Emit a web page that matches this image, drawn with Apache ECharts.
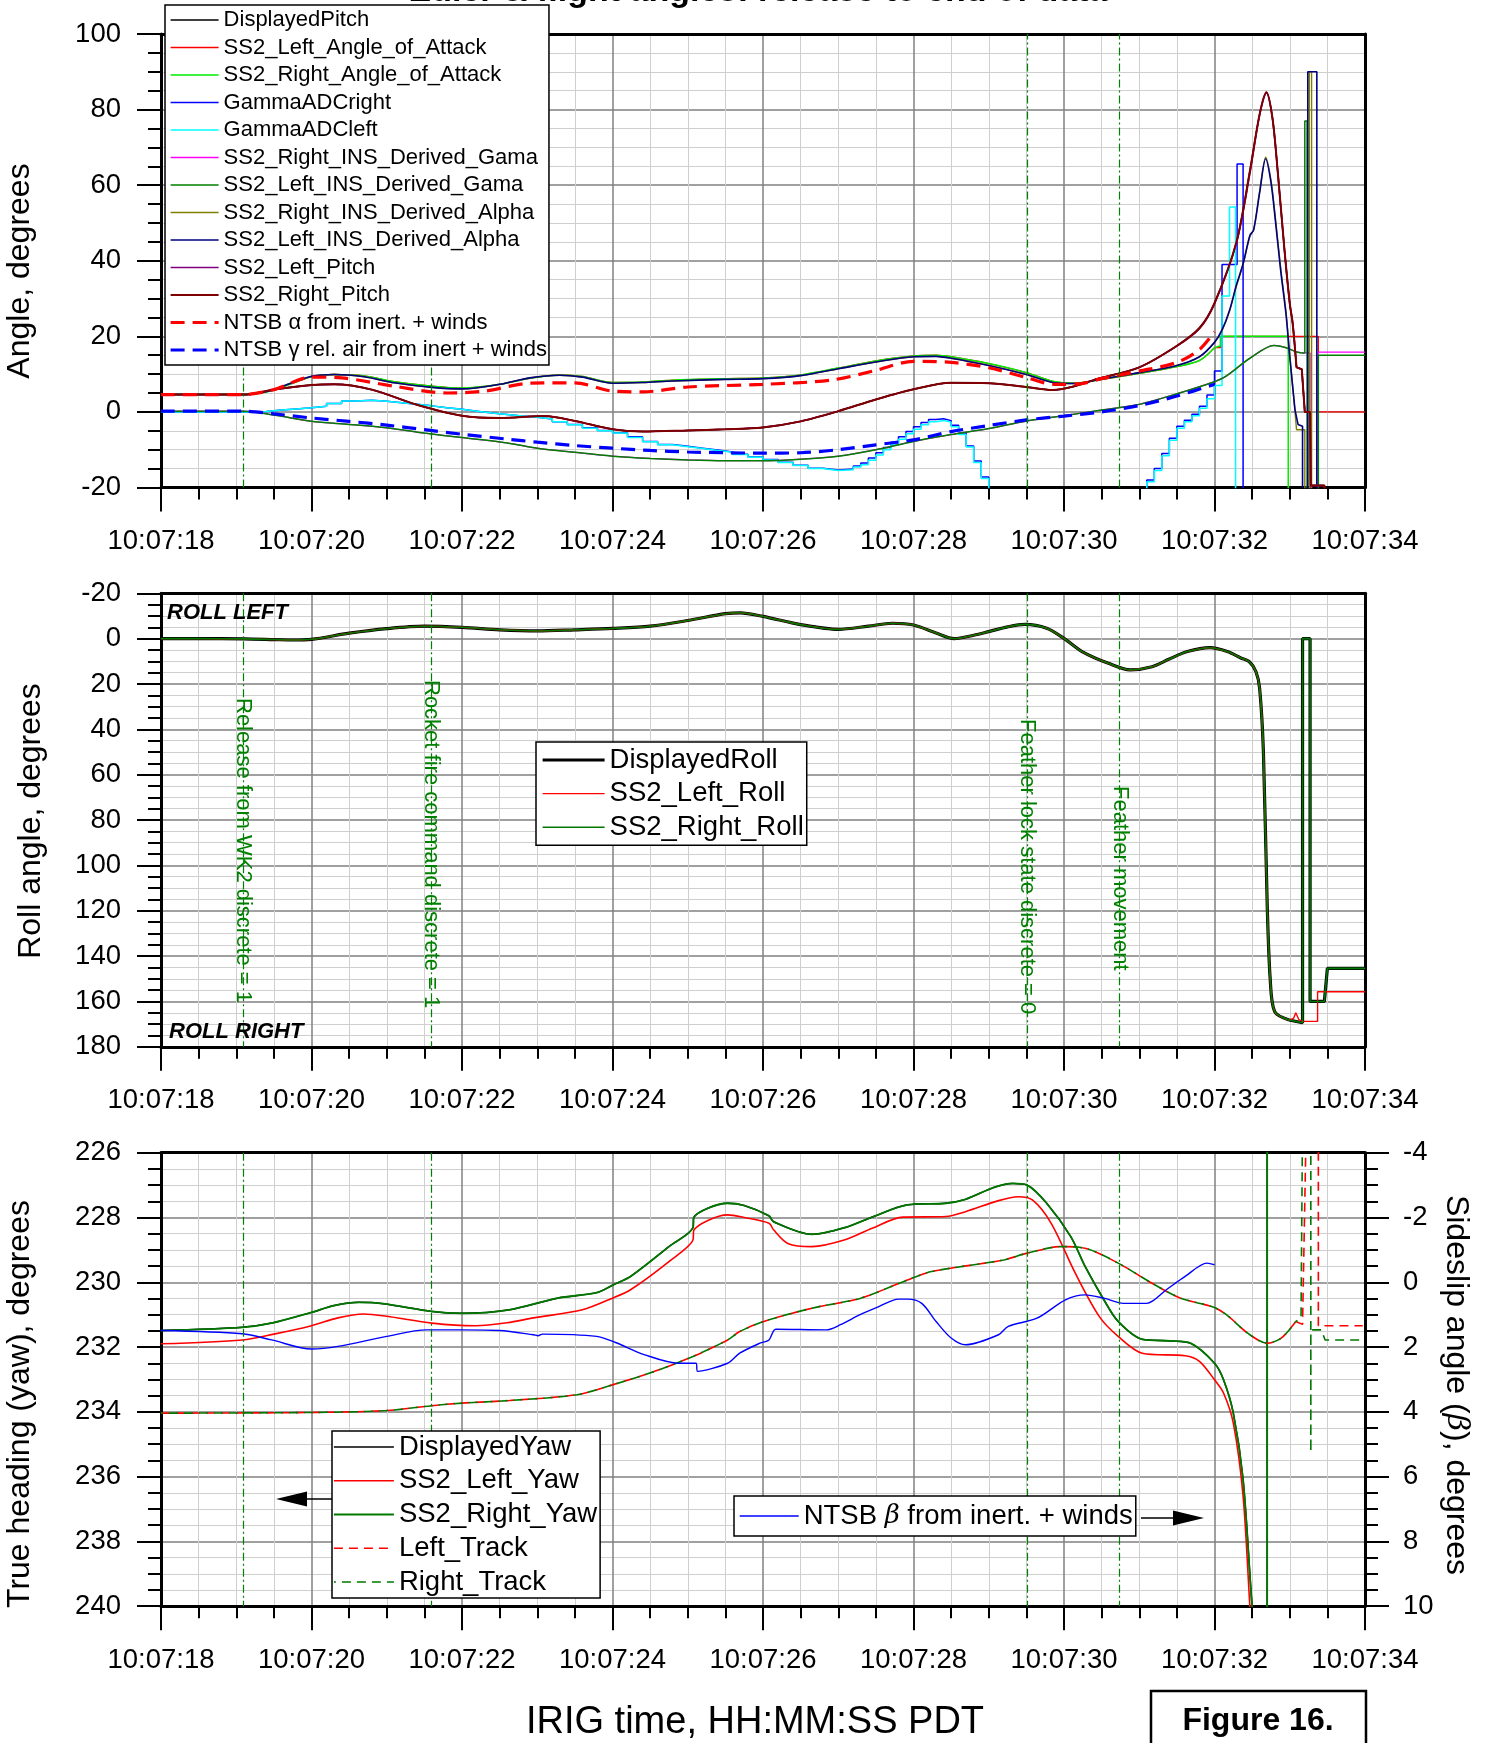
<!DOCTYPE html>
<html>
<head>
<meta charset="utf-8">
<title>Euler &amp; flight angles: release to end of data</title>
<script src="https://cdn.jsdelivr.net/npm/echarts@6/dist/echarts.min.js"></script>
<style>
html, body { margin: 0; padding: 0; background: #fff; }
#chart { width: 1491px; height: 1743px; }
</style>
</head>
<body>
<div id="chart"></div>
<script>
// All times are seconds past 10:07:00 PDT (IRIG time).

// ---------- Panel 1: pitch, angle of attack, flight-path angle (deg) ----------
const alphaT = [18, 19.1, 19.3, 19.5, 19.75, 20.0, 20.3, 20.7, 21.1, 21.6,
  22.0, 22.5, 22.9, 23.3, 23.6, 24.0, 24.4, 24.8, 25.5, 26.0,
  26.5, 27.0, 27.5, 28.0, 28.3, 28.5, 29.0, 29.5, 29.85, 30.15,
  30.45, 31.0, 31.5, 31.8, 32.0];
const insAlphaV = [4.6, 4.6, 5.0, 5.9, 7.8, 9.4, 9.9, 9.3, 7.7, 6.5,
  6.1, 7.3, 9.0, 9.7, 9.2, 7.6, 7.8, 8.2, 8.6, 8.8,
  9.6, 11.4, 13.2, 14.6, 14.7, 14.2, 12.3, 9.9, 7.8, 7.5,
  8.5, 10.4, 12.3, 14.6, 18.4];
const aoaV = [4.6, 4.6, 4.9, 5.8, 7.6, 9.3, 9.9, 9.5, 8.0, 6.8,
  6.3, 7.3, 8.9, 9.8, 9.4, 7.8, 7.9, 8.4, 8.8, 9.0,
  9.8, 11.6, 13.5, 14.8, 15.0, 14.6, 12.8, 10.4, 8.1, 7.6,
  8.4, 10.2, 12.0, 13.6, 17.0];
const insAlphaPeakT = [32.1, 32.2, 32.29, 32.38, 32.47, 32.52, 32.6, 32.68, 32.75, 32.81, 32.88, 32.95, 33.0, 33.07];
const leftInsAlphaPeakV = [21.7, 26.9, 33.5, 39.2, 46.7, 48.1, 58, 67, 60.8, 50.5, 37.3, 25.9, 14.6, 0.5];
const rightInsAlphaPeakV = [21.5, 26.6, 33.2, 39.0, 46.4, 48.3, 58.4, 67.4, 61.4, 51.2, 38.0, 26.6, 15.2, 0.0];
const leftInsAlphaTailT = [33.11, 33.17, 33.17, 33.24, 33.24, 33.36, 33.36];
const leftInsAlphaTailV = [-3.3, -3.8, -25, -25, 90, 90, -25];
const rightInsAlphaTailT = [33.09, 33.2, 33.2, 33.26, 33.26, 33.29, 33.29];
const rightInsAlphaTailV = [-4.7, -4.7, -25, -25, 90, 90, -25];
const leftAoaTailT = [32.08, 32.08, 33.38, 33.38, 34];
const leftAoaTailV = [17, 20, 20, 0, 0];
const rightAoaTailT = [32.08, 32.08, 32.98, 32.98];
const rightAoaTailV = [17.5, 20, 20, -25];

const pitchT = [18, 19.1, 19.5, 20.0, 20.3, 20.8, 21.4, 22.0, 22.5, 23.1,
  23.5, 24.0, 24.4, 25.0, 25.5, 26.0, 26.5, 27.0, 27.5, 28.0,
  28.5, 29.0, 29.5, 29.85, 30.1, 30.45, 31.0, 31.5, 31.8, 32.0,
  32.29, 32.47, 32.6, 32.69, 32.77, 32.84, 32.93, 33.0, 33.04, 33.09];
const rightPitchV = [4.6, 4.6, 5.9, 7.1, 7.3, 5.9, 1.9, -1.0, -1.6, -1.1,
  -2.4, -4.6, -5.2, -4.9, -4.6, -4.1, -2.5, 0.2, 3.3, 6.0,
  7.7, 7.6, 6.6, 5.8, 6.6, 8.8, 11.8, 17.5, 22.2, 28.8,
  44.8, 63.7, 78.8, 84.6, 77.8, 63.7, 42.9, 28.8, 23.1, 11.8];
const leftPitchV = [4.6, 4.6, 5.9, 7.1, 7.3, 5.9, 1.9, -1.0, -1.6, -1.1,
  -2.4, -4.6, -5.2, -4.9, -4.6, -4.1, -2.5, 0.2, 3.3, 6.0,
  7.7, 7.6, 6.6, 5.8, 6.6, 8.8, 11.8, 17.4, 22.0, 28.6,
  44.6, 63.0, 78.6, 84.4, 77.6, 63.5, 42.7, 28.6, 23.6, 11.8];
const pitchTailT = [33.16, 33.2, 33.27, 33.28, 33.46, 33.47];
const pitchTailV = [11.3, 0, 0, -19.5, -19.5, -25];

const insGamT = [18, 19.1, 19.5, 20.0, 20.5, 21.0, 21.5, 22.0, 22.6, 23.0,
  23.5, 24.0, 24.5, 25.0, 25.5, 26.0, 26.5, 27.0, 27.5, 28.0,
  28.5, 29.0, 29.5, 30.0, 30.5, 31.0, 31.5, 32.0, 32.15, 32.47,
  32.79, 32.95, 33.07, 33.16];
const insGamV = [0.2, 0.2, -0.8, -2.5, -3.3, -4.2, -5.6, -6.8, -8.2, -9.6,
  -10.7, -11.7, -12.3, -12.7, -12.9, -12.9, -12.5, -11.7, -10.0, -7.8,
  -6.0, -4.4, -2.4, -1.0, 0.5, 2.0, 4.8, 8.0, 9.4, 14.2,
  17.6, 17.0, 16.0, 15.6];
const leftInsGamTailT = [33.2, 33.2, 33.23, 33.23, 33.38, 33.38, 34];
const leftInsGamTailV = [15.6, 77, 77, -25, -25, 15, 15];
const rightInsGamTailT = [33.27, 33.27, 33.38, 33.38, 34];
const rightInsGamTailV = [15.6, -25, -25, 15.8, 15.8];

const ntsbAlphaT = [18, 19.1, 19.5, 20.0, 20.4, 21.1, 21.8, 22.3, 22.9, 23.5,
  24.0, 24.4, 25.0, 26.0, 26.9, 27.5, 28.0, 28.5, 29.0, 29.5,
  29.87, 30.2, 30.5, 31.0, 31.5, 31.8, 32.0];
const ntsbAlphaV = [4.6, 4.6, 5.9, 9.2, 9.0, 6.8, 5.0, 5.5, 7.6, 7.7,
  5.5, 5.3, 6.6, 7.3, 8.4, 11.0, 13.4, 13.1, 11.7, 9.1,
  7.3, 7.4, 8.8, 10.8, 13.1, 16.5, 21.2];
const ntsbGamT = [18, 19.1, 19.5, 20.0, 20.5, 21.0, 21.5, 22.0, 22.6, 23.0,
  23.5, 24.0, 24.5, 25.0, 25.5, 26.0, 26.5, 27.0, 27.5, 28.0,
  28.5, 29.0, 29.5, 30.0, 30.5, 31.0, 31.5, 32.0];
const ntsbGamV = [0.2, 0.2, -0.5, -1.6, -2.5, -3.5, -4.7, -5.9, -7.2, -8.0,
  -8.9, -9.6, -10.2, -10.6, -10.8, -10.9, -10.8, -10.0, -8.7, -7.4,
  -5.2, -3.6, -2.1, -1.1, 0.0, 1.7, 4.2, 7.3];

const adcLeftT = [18, 19.2, 19.4, 19.6, 19.8, 20.0, 20.2, 20.4, 20.6, 20.8,
  21.0, 21.2, 21.4, 21.6, 21.8, 22.0, 22.2, 22.4, 22.6, 22.8,
  23.0, 23.2, 23.4, 23.6, 23.8, 24.0, 24.2, 24.4, 24.6, 24.8,
  25.0, 25.2, 25.4, 25.6, 25.8, 26.0, 26.2, 26.4, 26.6, 26.8,
  27.0, 27.2, 27.3, 27.4, 27.5, 27.6, 27.7, 27.8, 27.9, 28.0,
  28.1, 28.2, 28.3, 28.4, 28.5, 28.6, 28.7, 28.8, 28.9, 29.0,
  31.05, 31.1, 31.2, 31.3, 31.4, 31.5, 31.6, 31.7, 31.8, 31.9,
  32.0, 32.1, 32.2, 32.28];
const adcLeftV = [0, 0.1, 0.5, 0.8, 1.1, 1.5, 2.2, 2.9, 3.1, 2.8,
  2.4, 2.0, 1.6, 1.1, 0.7, 0.2, -0.3, -0.7, -1.1, -1.4,
  -1.9, -2.6, -3.4, -4.3, -5.0, -5.6, -6.8, -7.9, -8.7, -9.2,
  -9.7, -10.2, -10.7, -11.3, -12.0, -12.7, -13.4, -14.2, -15.0, -15.5,
  -15.3, -14.6, -14.0, -12.8, -11.4, -10.0, -8.6, -7.2, -5.8, -4.6,
  -3.4, -2.6, -2.3, -2.7, -3.9, -6.0, -9.3, -13.4, -17.6, -25,
  -25, -18.5, -15.5, -11.6, -7.5, -4.3, -2.6, -1.0, 1.0, 3.5,
  7.0, 30.7, 54.2, -25];
const adcRightT = [18, 19.2, 19.4, 19.6, 19.8, 20.0, 20.2, 20.4, 20.6, 20.8,
  21.0, 21.2, 21.4, 21.6, 21.8, 22.0, 22.2, 22.4, 22.6, 22.8,
  23.0, 23.2, 23.4, 23.6, 23.8, 24.0, 24.2, 24.4, 24.6, 24.8,
  25.0, 25.2, 25.4, 25.6, 25.8, 26.0, 26.2, 26.4, 26.6, 26.8,
  27.0, 27.2, 27.3, 27.4, 27.5, 27.6, 27.7, 27.8, 27.9, 28.0,
  28.1, 28.2, 28.3, 28.4, 28.5, 28.6, 28.7, 28.8, 28.9, 29.0,
  31.05, 31.1, 31.2, 31.3, 31.4, 31.5, 31.6, 31.7, 31.8, 31.9,
  32.0, 32.1, 32.3, 32.38];
const adcRightV = [0, 0.1, 0.5, 0.8, 1.1, 1.5, 2.2, 2.9, 3.1, 2.8,
  2.4, 2.0, 1.6, 1.1, 0.7, 0.2, -0.3, -0.7, -1.1, -1.4,
  -1.9, -2.6, -3.3, -4.2, -4.9, -5.5, -6.6, -7.8, -8.6, -9.1,
  -9.6, -10.1, -10.6, -11.2, -11.9, -12.6, -13.3, -14.1, -14.9, -15.4,
  -15.1, -14.3, -13.5, -12.2, -10.8, -9.4, -8.0, -6.6, -5.2, -3.9,
  -2.8, -2.0, -1.8, -2.3, -3.5, -5.6, -9.0, -13.0, -17.2, -25,
  -25, -18.0, -15.0, -11.0, -7.0, -3.8, -2.2, -0.6, 1.5, 4.5,
  10.8, 39.0, 65.6, -25];

// ---------- Panel 2: roll angle (deg, positive = right) ----------
const rollT = [18, 18.5, 19.1, 19.5, 19.75, 20.0, 20.5, 21.0, 21.5, 22.0,
  22.5, 23.0, 23.5, 24.0, 24.5, 25.0, 25.5, 25.7, 26.0, 26.5,
  27.0, 27.4, 27.72, 28.0, 28.3, 28.54, 28.8, 29.0, 29.25, 29.48,
  29.77, 30.0, 30.24, 30.59, 30.88, 31.17, 31.4, 31.64, 31.94, 32.17,
  32.35, 32.46, 32.55, 32.6, 32.65, 32.7, 32.74, 32.8, 32.99];
const rollV = [0, 0, 0.1, 0.4, 0.6, 0.3, -2.4, -4.4, -5.5, -5.0,
  -3.9, -3.4, -3.9, -4.5, -5.5, -8.0, -11.0, -11.4, -9.8, -6.2,
  -4.1, -5.5, -6.8, -6.0, -2.5, 0, -1.5, -3.1, -5.2, -6.3,
  -4.6, -0.1, 5.7, 10.9, 13.8, 12.4, 9.0, 5.7, 4.0, 5.7,
  8.5, 10.1, 14.5, 22, 50, 117, 150, 164.5, 168.2];
const rollTailT = [33.17, 33.17, 33.27, 33.27, 33.46, 33.5, 34];
const rollTailV = [169.4, 0, 0, 160, 160, 145.4, 145.4];
const leftRollTailT = [33.05, 33.08, 33.12, 33.17, 33.37, 33.37, 34];
const leftRollTailV = [167.5, 165, 168, 168.8, 168.8, 155.7, 155.7];

// ---------- Panel 3: heading, track (deg) and sideslip (deg) ----------
const leftYawT = [18, 19.08, 19.5, 20.0, 20.35, 20.69, 21.0, 21.6, 22.18, 22.6,
  22.95, 23.6, 24.0, 24.24, 24.75, 25.07, 25.08, 25.53, 25.75, 26.08,
  26.14, 26.33, 26.65, 27.09, 27.45, 27.86, 28.43, 28.69, 29.13, 29.39,
  29.58, 29.83, 30.15, 30.47, 30.72, 31.04, 31.61, 31.8, 32.0, 32.12,
  32.25, 32.38, 32.47, 32.5];
const leftYawV = [231.9, 231.78, 231.6, 231.34, 231.1, 230.98, 231.05, 231.26, 231.34, 231.25,
  231.1, 230.85, 230.49, 230.23, 229.36, 228.69, 228.4, 227.92, 228.0, 228.18,
  228.38, 228.8, 228.9, 228.69, 228.33, 227.99, 227.97, 227.82, 227.48, 227.36,
  227.46, 228.18, 229.72, 231.06, 231.67, 232.19, 232.27, 232.44, 233.01, 233.42,
  234.35, 236.6, 240, 241];
const rightYawT = [18, 19.08, 19.47, 20.0, 20.3, 20.63, 20.95, 21.6, 22.0, 22.63,
  23.27, 23.79, 24.01, 24.24, 24.75, 25.07, 25.08, 25.53, 25.75, 26.08,
  26.14, 26.65, 27.09, 27.47, 27.92, 28.43, 28.69, 29.07, 29.32, 29.51,
  29.77, 30.09, 30.28, 30.53, 30.72, 31.04, 31.42, 31.68, 32.0, 32.12,
  32.25, 32.38, 32.5, 32.55];
const rightYawV = [231.49, 231.39, 231.26, 230.93, 230.72, 230.62, 230.66, 230.9, 230.96, 230.85,
  230.49, 230.32, 230.08, 229.82, 228.9, 228.31, 228.0, 227.56, 227.63, 227.95,
  228.13, 228.52, 228.31, 227.97, 227.61, 227.56, 227.44, 227.07, 226.95, 227.0,
  227.56, 228.59, 229.51, 230.54, 231.21, 231.76, 231.81, 231.88, 232.5, 233.01,
  234.04, 236.09, 240, 241];
const rightYawTailT = [32.7, 32.7, 32.72];
const rightYawTailV = [245, 220, 215];
const trackT = [18, 20.0, 21.0, 21.6, 22.0, 22.63, 23.53, 24.01, 24.56, 25.07,
  25.53, 25.69, 26.01, 26.65, 27.3, 27.92, 28.24, 29.2, 29.51, 29.96,
  30.28, 30.72, 31.17, 31.55, 32.0, 32.19, 32.44, 32.7, 32.89, 33.08];
const trackV = [234.04, 234.02, 233.96, 233.81, 233.73, 233.65, 233.47, 233.16, 232.75, 232.29,
  231.78, 231.52, 231.21, 230.8, 230.49, 229.93, 229.67, 229.31, 229.1, 228.9,
  228.95, 229.41, 230.03, 230.49, 230.78, 231.06, 231.57, 231.88, 231.72, 231.21];
const leftTrackTailT = [33.17, 33.22, 33.38, 33.38, 33.97];
const leftTrackTailV = [231.3, 225, 225, 231.34, 231.34];
const rightTrackTailT = [33.15, 33.17, 33.28, 33.28, 33.28, 33.42, 33.47, 33.97];
const rightTrackTailV = [231.1, 225, 225, 235.25, 231.47, 231.47, 231.78, 231.78];
const betaT = [18, 19.08, 19.47, 20.0, 20.35, 21.0, 21.53, 22.0, 22.5, 22.95,
  23.01, 23.07, 23.79, 24.04, 24.43, 24.88, 25.11, 25.13, 25.53, 25.69,
  25.96, 26.08, 26.17, 26.84, 27.03, 27.29, 27.54, 27.8, 27.92, 28.11,
  28.3, 28.5, 28.69, 29.13, 29.26, 29.64, 30.02, 30.28, 30.53, 30.79,
  31.1, 31.36, 31.61, 31.9, 32.0];
const betaV = [1.49, 1.59, 1.78, 2.06, 1.98, 1.67, 1.47, 1.47, 1.49, 1.62,
  1.65, 1.6, 1.67, 1.86, 2.24, 2.5, 2.5, 2.75, 2.5, 2.19,
  1.88, 1.78, 1.45, 1.47, 1.31, 1.0, 0.75, 0.52, 0.52, 0.65,
  1.21, 1.72, 1.93, 1.62, 1.36, 1.11, 0.54, 0.39, 0.49, 0.65,
  0.65, 0.23, -0.18, -0.59, -0.54];

// ---------- Discrete events ----------
const eventTimes = [19.09, 21.59, 29.51, 30.74];
const eventLabels = ['Release from WK2 discrete = 1', 'Rocket fire command discrete = 1',
  'Feather lock state discrete = 0', 'Feather movement'];

// ---------- Legend entries ----------
const pitchNames = ['DisplayedPitch', 'SS2_Left_Angle_of_Attack', 'SS2_Right_Angle_of_Attack',
  'GammaADCright', 'GammaADCleft', 'SS2_Right_INS_Derived_Gama', 'SS2_Left_INS_Derived_Gama',
  'SS2_Right_INS_Derived_Alpha', 'SS2_Left_INS_Derived_Alpha', 'SS2_Left_Pitch', 'SS2_Right_Pitch',
  'NTSB \u03b1 from inert. + winds', 'NTSB \u03b3 rel. air from inert + winds'];
const rollNames = ['DisplayedRoll', 'SS2_Left_Roll', 'SS2_Right_Roll'];
const yawNames = ['DisplayedYaw', 'SS2_Left_Yaw', 'SS2_Right_Yaw', 'Left_Track', 'Right_Track'];
const betaNames = ['NTSB \u03b2 from inert. + winds'];

// ================= chart construction =================
const FONT = 'Liberation Sans';
const TICK_FONT = 27.5;
const EVENT_LABEL_TOP = [698, 680, 719, 786];

function pairs(T, V) { return T.map((t, i) => [t, V[i]]); }

const series = [];

// vertical event markers, drawn first so they sit under the data
[[0, 0], [1, 1], [2, 2]].forEach(([xi, yi]) => {
  series.push({
    type: 'line', xAxisIndex: xi, yAxisIndex: yi, data: [], symbol: 'none', silent: true,
    animation: false,
    markLine: {
      silent: true, animation: false, symbol: ['none', 'none'], label: { show: false },
      emphasis: { disabled: true },
      lineStyle: { color: '#008000', width: 1.2, type: [8, 3, 2, 3] },
      data: eventTimes.map(t => ({ xAxis: t }))
    }
  });
});

function addLine(name, color, width, axes, body, tail, opts) {
  opts = opts || {};
  const base = {
    name, type: 'line', xAxisIndex: axes[0], yAxisIndex: axes[1],
    symbol: 'none', showSymbol: false, animation: false, silent: true,
    emphasis: { disabled: true },
    lineStyle: { color, width, type: opts.dash || 'solid', dashOffset: opts.dashOffset || 0 },
    itemStyle: { color }
  };
  series.push(Object.assign({}, base, {
    data: body,
    smooth: opts.step ? false : 0.3,
    step: opts.step || false
  }));
  if (tail && tail.length) {
    series.push(Object.assign({}, base, {
      data: [body[body.length - 1]].concat(tail),
      smooth: false
    }));
  }
}

// Panel 1
const P1 = [0, 0];
addLine('DisplayedPitch', '#000000', 1.5, P1, pairs(pitchT, rightPitchV), pairs(pitchTailT, pitchTailV));
addLine('SS2_Left_Angle_of_Attack', '#ff0000', 1.3, P1, pairs(alphaT, aoaV), pairs(leftAoaTailT, leftAoaTailV));
addLine('SS2_Right_Angle_of_Attack', '#00ee00', 1.5, P1, pairs(alphaT, aoaV), pairs(rightAoaTailT, rightAoaTailV));
addLine('GammaADCright', '#0000ff', 1.5, P1, pairs(adcRightT, adcRightV), null, { step: 'end' });
addLine('GammaADCleft', '#00ffff', 1.5, P1, pairs(adcLeftT, adcLeftV), null, { step: 'end' });
addLine('SS2_Right_INS_Derived_Gama', '#ff00ff', 1.3, P1, pairs(insGamT, insGamV), pairs(rightInsGamTailT, rightInsGamTailV));
addLine('SS2_Left_INS_Derived_Gama', '#008000', 1.5, P1, pairs(insGamT, insGamV), pairs(leftInsGamTailT, leftInsGamTailV));
addLine('SS2_Right_INS_Derived_Alpha', '#808000', 1.4, P1,
  pairs(alphaT, insAlphaV).concat(pairs(insAlphaPeakT, rightInsAlphaPeakV)), pairs(rightInsAlphaTailT, rightInsAlphaTailV));
addLine('SS2_Left_INS_Derived_Alpha', '#000080', 1.6, P1,
  pairs(alphaT, insAlphaV).concat(pairs(insAlphaPeakT, leftInsAlphaPeakV)), pairs(leftInsAlphaTailT, leftInsAlphaTailV));
addLine('SS2_Left_Pitch', '#800080', 1.6, P1, pairs(pitchT, leftPitchV), pairs(pitchTailT, pitchTailV));
addLine('SS2_Right_Pitch', '#800000', 2.0, P1, pairs(pitchT, rightPitchV), pairs(pitchTailT, pitchTailV));
addLine('NTSB \u03b1 from inert. + winds', '#ff0000', 3.2, P1, pairs(ntsbAlphaT, ntsbAlphaV), null, { dash: [14, 8] });
addLine('NTSB \u03b3 rel. air from inert + winds', '#0000ff', 3.2, P1, pairs(ntsbGamT, ntsbGamV), null, { dash: [14, 8] });

// Panel 2
const P2 = [1, 1];
addLine('DisplayedRoll', '#000000', 3.2, P2, pairs(rollT, rollV), pairs(rollTailT, rollTailV));
addLine('SS2_Left_Roll', '#ff0000', 1.4, P2, pairs(rollT, rollV), pairs(leftRollTailT, leftRollTailV));
addLine('SS2_Right_Roll', '#007800', 1.6, P2, pairs(rollT, rollV), pairs(rollTailT, rollTailV));

// Panel 3
const P3 = [2, 2];
addLine('DisplayedYaw', '#000000', 1.5, P3, pairs(rightYawT, rightYawV), pairs(rightYawTailT, rightYawTailV));
addLine('SS2_Left_Yaw', '#ff0000', 1.6, P3, pairs(leftYawT, leftYawV), null);
addLine('SS2_Right_Yaw', '#007800', 1.8, P3, pairs(rightYawT, rightYawV), pairs(rightYawTailT, rightYawTailV));
addLine('Left_Track', '#ff0000', 1.6, P3, pairs(trackT, trackV), pairs(leftTrackTailT, leftTrackTailV), { dash: [9, 6] });
addLine('Right_Track', '#007800', 1.6, P3, pairs(trackT, trackV), pairs(rightTrackTailT, rightTrackTailV), { dash: [9, 6], dashOffset: 7 });
addLine('NTSB \u03b2 from inert. + winds', '#0000ff', 1.4, [2, 3], pairs(betaT, betaV), null);

// ---- axes ----
const AXIS_LINE = { show: true, onZero: false, lineStyle: { color: '#000', width: 3 } };

function timeAxis(gi) {
  return {
    type: 'value', gridIndex: gi, min: 18, max: 34, interval: 2,
    axisLine: AXIS_LINE,
    axisTick: { show: true, inside: false, length: 24, lineStyle: { color: '#000', width: 2 } },
    minorTick: { show: true, splitNumber: 4, length: 12, lineStyle: { color: '#000', width: 2 } },
    splitLine: { show: true, lineStyle: { color: '#808080', width: 1.5 } },
    minorSplitLine: { show: true, lineStyle: { color: '#cfcfcf', width: 1 } },
    axisLabel: {
      show: true, margin: 40, fontSize: TICK_FONT, fontFamily: FONT, color: '#000',
      showMinLabel: true, showMaxLabel: true,
      formatter: v => '10:07:' + (v < 10 ? '0' : '') + v
    }
  };
}
function valueAxis(gi, min, max, interval, opts) {
  opts = opts || {};
  return {
    type: 'value', gridIndex: gi, min, max, interval, inverse: !!opts.inverse,
    position: opts.position || 'left',
    axisLine: AXIS_LINE,
    axisTick: { show: true, inside: false, length: 24, lineStyle: { color: '#000', width: 2 } },
    minorTick: { show: true, splitNumber: 4, length: 13, lineStyle: { color: '#000', width: 2 } },
    splitLine: { show: !opts.noGrid, lineStyle: { color: '#808080', width: 1.5 } },
    minorSplitLine: { show: !opts.noGrid, lineStyle: { color: '#cfcfcf', width: 1 } },
    axisLabel: {
      show: true, margin: opts.margin || 40, fontSize: TICK_FONT, fontFamily: FONT, color: '#000',
      showMinLabel: true, showMaxLabel: true
    }
  };
}
// plain frame edges (top / right) drawn above the grid lines
function frameAxis(gi, position, min, max) {
  return {
    type: 'value', gridIndex: gi, position, min, max,
    axisLine: AXIS_LINE, axisTick: { show: false }, minorTick: { show: false },
    axisLabel: { show: false }, splitLine: { show: false }, minorSplitLine: { show: false }
  };
}

function gridBox(top) {
  return {
    left: 161, top, width: 1204, height: 453.5, containLabel: false, outerBoundsMode: 'none',
    show: true, borderColor: '#000', borderWidth: 0, backgroundColor: '#fff'
  };
}

function legendBox(left, top, names, o) {
  return Object.assign({
    show: true, left, top, orient: 'vertical', data: names, selectedMode: false,
    backgroundColor: '#fff', borderColor: '#000', borderWidth: 1.5, borderRadius: 0,
    itemStyle: { opacity: 0, borderWidth: 0 },
    lineStyle: { width: 'inherit' },
    z: 20
  }, o);
}

const option = {
  animation: false,
  backgroundColor: '#fff',
  textStyle: { fontFamily: FONT },
  grid: [gridBox(34), gridBox(593.3), gridBox(1152.7)],
  xAxis: [timeAxis(0), timeAxis(1), timeAxis(2),
    frameAxis(0, 'top', 18, 34), frameAxis(1, 'top', 18, 34), frameAxis(2, 'top', 18, 34)],
  yAxis: [
    valueAxis(0, -20, 100, 20),
    valueAxis(1, -20, 180, 20, { inverse: true }),
    valueAxis(2, 226, 240, 2, { inverse: true }),
    valueAxis(2, -4, 10, 2, { inverse: true, position: 'right', noGrid: true, margin: 38 }),
    frameAxis(0, 'right', -20, 100),
    frameAxis(1, 'right', -20, 180)
  ],
  legend: [
    legendBox(165, 5, pitchNames, {
      padding: [3, 2, 3, 4], itemGap: 3.5, itemWidth: 48, itemHeight: 24,
      textStyle: { fontFamily: FONT, fontSize: 22, color: '#000', lineHeight: 24 }
    }),
    legendBox(536, 742, rollNames, {
      padding: [3, 3, 3, 5], itemGap: 3.6, itemWidth: 62, itemHeight: 30,
      textStyle: { fontFamily: FONT, fontSize: 27.5, color: '#000', lineHeight: 30 }
    }),
    legendBox(332, 1431, yawNames, {
      padding: [1, 3, 1, 1], itemGap: 3.75, itemWidth: 60, itemHeight: 30,
      textStyle: { fontFamily: FONT, fontSize: 27.5, color: '#000', lineHeight: 30 }
    }),
    legendBox(734, 1496, betaNames, {
      padding: [5, 3, 5, 5], itemGap: 0, itemWidth: 59, itemHeight: 30,
      formatter: () => 'NTSB {b|\u03b2} from inert. + winds',
      textStyle: {
        fontFamily: FONT, fontSize: 27.5, color: '#000', lineHeight: 30,
        rich: { b: { fontStyle: 'italic', fontFamily: 'DejaVu Serif', fontSize: 26, color: '#000' } }
      }
    })
  ],
  series
};

const chart = echarts.init(document.getElementById('chart'), null, { renderer: 'canvas' });
chart.setOption(option);

// ---- titles, annotations and pointers ----
function txt(x, y, text, style, rotation) {
  return {
    type: 'text', x, y, rotation: rotation || 0, z: 100, silent: true,
    style: Object.assign({
      text, fill: '#000', fontFamily: FONT, fontSize: 32, align: 'center', verticalAlign: 'middle'
    }, style || {})
  };
}

const graphics = [
  txt(758, -8, 'Euler & flight angles: release to end of data', { fontSize: 34, fontWeight: 'bold' }),
  txt(20, 271, 'Angle, degrees', {}, Math.PI / 2),
  txt(31, 821, 'Roll angle, degrees', {}, Math.PI / 2),
  txt(20, 1404, 'True heading (yaw), degrees', {}, Math.PI / 2),
  txt(1456, 1385, 'Sideslip angle ({b|\u03b2}), degrees', {
    rich: { b: { fontStyle: 'italic', fontFamily: 'DejaVu Serif', fontSize: 30, fill: '#000' } }
  }, -Math.PI / 2),
  txt(755, 1723, 'IRIG time, HH:MM:SS PDT', { fontSize: 38 }),
  {
    type: 'rect', z: 99, silent: true,
    shape: { x: 1151, y: 1691, width: 215, height: 70 },
    style: { fill: '#fff', stroke: '#000', lineWidth: 2.5 }
  },
  txt(1258, 1721, 'Figure 16.', { fontSize: 32, fontWeight: 'bold' }),
  txt(167, 613, 'ROLL LEFT', { fontSize: 22, fontWeight: 'bold', fontStyle: 'italic', align: 'left' }),
  txt(169, 1032, 'ROLL RIGHT', { fontSize: 22, fontWeight: 'bold', fontStyle: 'italic', align: 'left' }),
  // pointer from the yaw legend to the left (heading) axis
  { type: 'line', z: 100, silent: true, shape: { x1: 305, y1: 1499, x2: 332, y2: 1499 }, style: { stroke: '#000', lineWidth: 1.5 } },
  { type: 'polygon', z: 100, silent: true, shape: { points: [[276, 1499], [307, 1491.5], [307, 1506.5]] }, style: { fill: '#000' } },
  // pointer from the sideslip legend to the right (beta) axis
  { type: 'line', z: 100, silent: true, shape: { x1: 1141, y1: 1518, x2: 1175, y2: 1518 }, style: { stroke: '#000', lineWidth: 1.5 } },
  { type: 'polygon', z: 100, silent: true, shape: { points: [[1204, 1518], [1173, 1510.5], [1173, 1525.5]] }, style: { fill: '#000' } }
];

// event captions run down their marker lines in the roll panel
eventTimes.forEach((t, i) => {
  const x = chart.convertToPixel({ xAxisIndex: 1 }, t);
  graphics.push(txt(x, EVENT_LABEL_TOP[i], eventLabels[i],
    { fontSize: 22, fill: '#008000', align: 'left' }, -Math.PI / 2));
});

chart.setOption({ graphic: graphics });
</script>
</body>
</html>
